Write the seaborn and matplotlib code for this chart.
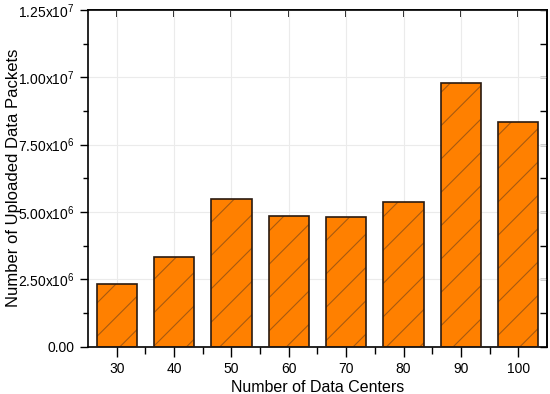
import matplotlib
matplotlib.use("Agg")
import matplotlib.pyplot as plt
import seaborn as sns
import numpy as np
from matplotlib.ticker import MultipleLocator, FixedLocator

categories = ["30", "40", "50", "60", "70", "80", "90", "100"]
values = [2.32e6, 3.32e6, 5.47e6, 4.86e6, 4.81e6, 5.36e6, 9.80e6, 8.33e6]
ytick_vals = [0, 2.5e6, 5.0e6, 7.5e6, 1.0e7, 1.25e7]
ytick_labels = ["0.00", r"2.50x10$^{6}$", r"5.00x10$^{6}$", r"7.50x10$^{6}$",
                r"1.00x10$^{7}$", r"1.25x10$^{7}$"]

sns.set_style("ticks")
plt.rcParams["font.family"] = ["Liberation Sans", "DejaVu Sans"]
plt.rcParams["mathtext.fontset"] = "custom"
plt.rcParams["mathtext.rm"] = "Liberation Sans"
plt.rcParams["mathtext.it"] = "Liberation Sans:italic"
plt.rcParams["hatch.linewidth"] = 0.8
for k in ["text.color", "axes.labelcolor", "xtick.color", "ytick.color", "axes.edgecolor"]:
    plt.rcParams[k] = "black"

fig, ax = plt.subplots(figsize=(5.5, 3.94), dpi=100)
fig.subplots_adjust(left=0.16, right=0.9945, top=0.975, bottom=0.12)

# hatched fill layer
sns.barplot(x=categories, y=values, color="#FF8000", saturation=1, width=0.7,
            edgecolor="#A85A10", linewidth=0, ax=ax, zorder=2)
for p in ax.patches:
    p.set_hatch("/")
# outline layer
sns.barplot(x=categories, y=values, fill=False, color="#2a1a10", width=0.7,
            linewidth=1.2, ax=ax, zorder=3)

ax.set_xlim(-0.5, len(categories) - 0.5)
ax.set_ylim(0, 1.25e7)
ax.set_yticks(ytick_vals)
ax.set_yticklabels(ytick_labels)
ax.yaxis.set_minor_locator(MultipleLocator(1.25e6))
ax.xaxis.set_minor_locator(FixedLocator(np.arange(0.5, len(categories) - 0.5, 1.0)))

ax.grid(True, which="major", color="#ebebeb", linewidth=0.8, zorder=0)
ax.set_axisbelow(True)

ax.set_xlabel("Number of Data Centers", fontsize=11.5, labelpad=3)
ax.set_ylabel("Number of Uploaded Data Packets", fontsize=12)
ax.yaxis.set_label_coords(-0.145, 0.5)

ax.tick_params(axis="both", which="major", labelsize=10, direction="out",
               length=6, width=1, color="black", pad=4,
               right=False, top=False)
ax.tick_params(axis="both", which="minor", direction="out", length=3.5, width=1,
               color="black", right=False, top=False)
ax.tick_params(axis="x", which="minor", length=5)
ax.tick_params(axis="x", which="major", length=7, pad=4)

for s in ax.spines.values():
    s.set_visible(True)
    s.set_color("black")
    s.set_linewidth(1.2)

# right and top inward ticks
sec_y = ax.secondary_yaxis("right")
sec_y.set_yticks(ytick_vals)
sec_y.yaxis.set_minor_locator(MultipleLocator(1.25e6))
sec_y.tick_params(which="both", direction="in", length=5, width=1,
                  color="black", labelright=False)
sec_y.spines["right"].set_linewidth(1.2)

sec_x = ax.secondary_xaxis("top")
sec_x.set_xticks(range(len(categories)))
sec_x.tick_params(which="major", direction="in", length=5, width=1.2,
                  color="black", labeltop=False)
sec_x.tick_params(which="minor", length=0)
sec_x.spines["top"].set_linewidth(1.2)

fig.savefig("out.png", dpi=100)
